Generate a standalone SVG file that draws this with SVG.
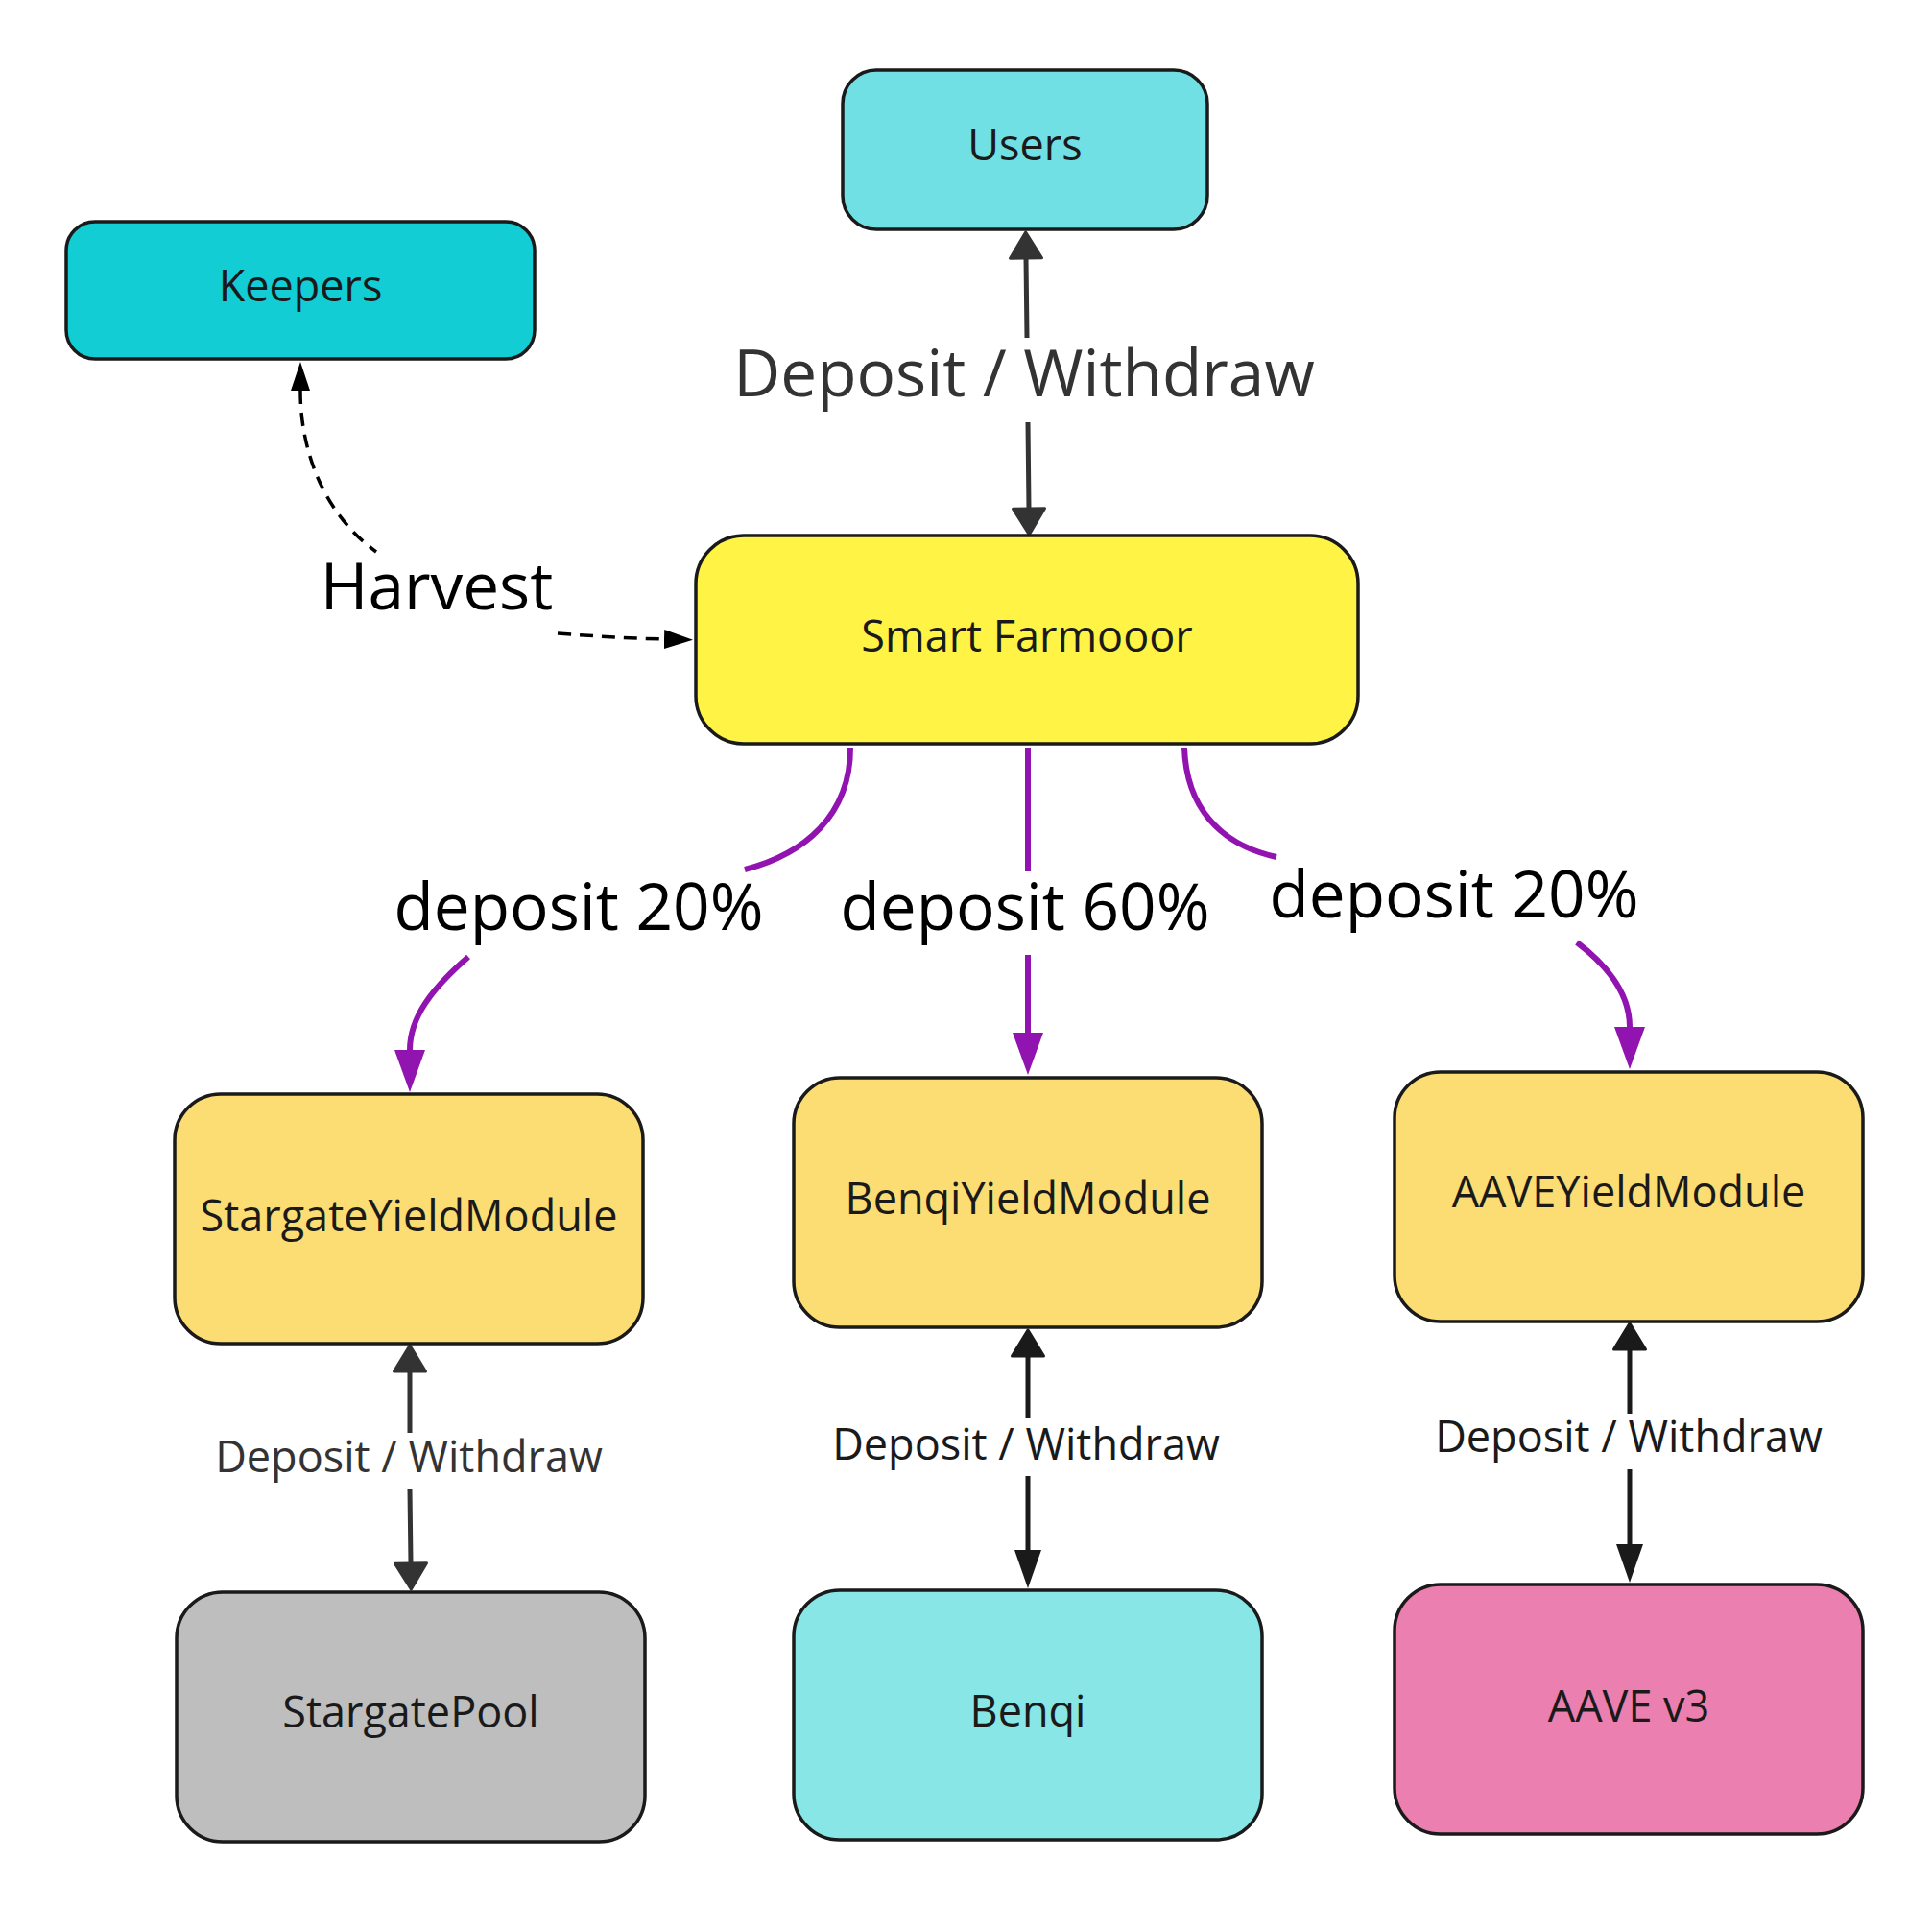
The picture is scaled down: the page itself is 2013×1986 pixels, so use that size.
<svg xmlns="http://www.w3.org/2000/svg" width="2013" height="1986" viewBox="0 0 2013 1986">
<style>
.box{stroke:#1a1a1a;stroke-width:3.5}
.nt{font-family:"Open Sans","Noto Sans","Liberation Sans",sans-serif;font-size:45px;fill:#1a1a1a;text-anchor:middle}
.big{font-family:"Open Sans","Noto Sans","Liberation Sans",sans-serif;font-size:67.5px;text-anchor:middle}
.sm{font-family:"Open Sans","Noto Sans","Liberation Sans",sans-serif;font-size:45px;text-anchor:middle}
.c333{fill:none;stroke:#333;stroke-width:5}
.c1a{fill:none;stroke:#1a1a1a;stroke-width:5}
.pur{fill:none;stroke:#9214B0;stroke-width:6}
.dash{fill:none;stroke:#000;stroke-width:3.5;stroke-dasharray:14 9}
</style>
<defs>
<marker id="w333" viewBox="-3 -3 33 39" refX="0" refY="16.5" markerWidth="33" markerHeight="39" markerUnits="userSpaceOnUse" orient="auto-start-reverse"><path d="M0,0 L27,16.5 L0,33 Z" fill="#333" stroke="#333" stroke-width="3" stroke-linejoin="round"/></marker>
<marker id="w1a" viewBox="-3 -3 33 39" refX="0" refY="16.5" markerWidth="33" markerHeight="39" markerUnits="userSpaceOnUse" orient="auto-start-reverse"><path d="M0,0 L27,16.5 L0,33 Z" fill="#1a1a1a" stroke="#1a1a1a" stroke-width="3" stroke-linejoin="round"/></marker>
<marker id="l1a" viewBox="0 0 40 28" refX="0" refY="14" markerWidth="40" markerHeight="28" markerUnits="userSpaceOnUse" orient="auto"><path d="M0,0 L40,14 L0,28 Z" fill="#1a1a1a"/></marker>
<marker id="mp" viewBox="0 0 44 32" refX="0" refY="16" markerWidth="44" markerHeight="32" markerUnits="userSpaceOnUse" orient="auto"><path d="M0,0 L44,16 L0,32 Z" fill="#9214B0"/></marker>
<marker id="mh" viewBox="0 0 30 20" refX="0" refY="10" markerWidth="30" markerHeight="20" markerUnits="userSpaceOnUse" orient="auto-start-reverse"><path d="M0,0 L30,10 L0,20 Z" fill="#000"/></marker>
</defs>
<rect width="2013" height="1986" fill="#fff"/>

<g id="connectors">
<path class="c333" d="M1069,269 L1070,352 M1071,440 L1072,530" marker-start="url(#w333)" marker-end="url(#w333)"/>
<text class="big" x="1067" y="413" fill="#333">Deposit / Withdraw</text>

<path class="dash" d="M313,407 C313,470 337,535 392,575 M581,660 C620,663 655,665 692,666" marker-start="url(#mh)" marker-end="url(#mh)"/>
<text class="big" x="455" y="635" fill="#000">Harvest</text>

<path class="pur" d="M886,779 C886,850 838,890 776,906 M488,997 C450,1030 427,1060 427,1094" marker-end="url(#mp)"/>
<text class="big" x="603" y="969" fill="#000">deposit 20%</text>

<path class="pur" d="M1071,779 L1071,908 M1071,995 L1071,1076" marker-end="url(#mp)"/>
<text class="big" x="1068" y="969" fill="#000">deposit 60%</text>

<path class="pur" d="M1234,779 C1236,840 1270,880 1330,893 M1643,982 C1680,1010 1698,1040 1698,1070" marker-end="url(#mp)"/>
<text class="big" x="1515" y="956" fill="#000">deposit 20%</text>

<path class="c333" d="M427,1429 L427,1493 M427,1552 L428,1629" marker-start="url(#w333)" marker-end="url(#w333)"/>
<text class="sm" x="426" y="1534" fill="#333">Deposit / Withdraw</text>

<path class="c1a" d="M1071,1413 L1071,1478 M1071,1538 L1071,1615" marker-start="url(#w1a)" marker-end="url(#l1a)"/>
<text class="sm" x="1069" y="1521" fill="#1a1a1a">Deposit / Withdraw</text>

<path class="c1a" d="M1698,1406 L1698,1473 M1698,1531 L1698,1609" marker-start="url(#w1a)" marker-end="url(#l1a)"/>
<text class="sm" x="1697" y="1513" fill="#1a1a1a">Deposit / Withdraw</text>
</g>

<g id="users"><rect class="box" x="878" y="73" width="380" height="166" rx="35" fill="#70E0E4"/><text class="nt" x="1068" y="167">Users</text></g>
<g id="keepers"><rect class="box" x="69" y="231" width="488" height="143" rx="30" fill="#12CDD4"/><text class="nt" x="313" y="314">Keepers</text></g>
<g id="smart-farmooor"><rect class="box" x="725" y="558" width="690" height="217" rx="50" fill="#FFF445"/><text class="nt" x="1070" y="679">Smart Farmooor</text></g>
<g id="stargate-yield-module"><rect class="box" x="182" y="1140" width="488" height="260" rx="48" fill="#FBDD73"/><text class="nt" x="426" y="1283">StargateYieldModule</text></g>
<g id="benqi-yield-module"><rect class="box" x="827" y="1123" width="488" height="260" rx="48" fill="#FBDD73"/><text class="nt" x="1071" y="1265">BenqiYieldModule</text></g>
<g id="aave-yield-module"><rect class="box" x="1453" y="1117" width="488" height="260" rx="48" fill="#FBDD73"/><text class="nt" x="1697" y="1258">AAVEYieldModule</text></g>
<g id="stargate-pool"><rect class="box" x="184" y="1659" width="488" height="260" rx="48" fill="#BEBEBE"/><text class="nt" x="428" y="1800">StargatePool</text></g>
<g id="benqi"><rect class="box" x="827" y="1657" width="488" height="260" rx="48" fill="#88E6E7"/><text class="nt" x="1071" y="1799">Benqi</text></g>
<g id="aave-v3"><rect class="box" x="1453" y="1651" width="488" height="260" rx="48" fill="#EB7FAF"/><text class="nt" x="1697" y="1794">AAVE v3</text></g>
</svg>
